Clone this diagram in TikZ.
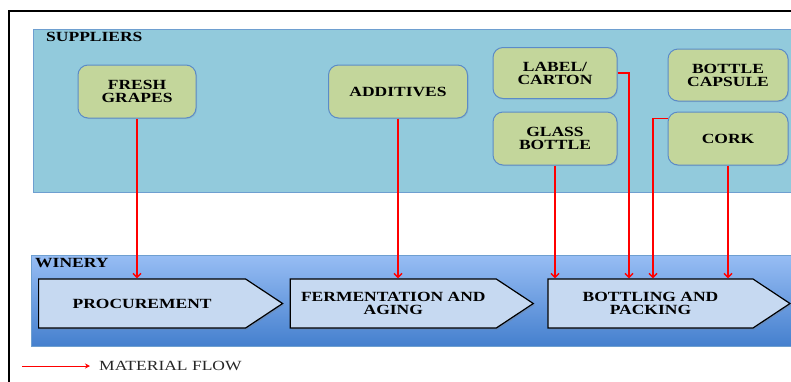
\documentclass[tikz,border=0pt]{standalone}
\usepackage{fontspec}
\setmainfont{Liberation Serif}[FakeStretch=1.25]
\usetikzlibrary{arrows.meta,positioning,shapes.symbols,shadows}
\definecolor{wsky}{HTML}{92CADC}
\definecolor{wedge}{HTML}{6E9FD0}
\definecolor{wolive}{HTML}{C3D69B}
\definecolor{wblue}{HTML}{5B8BC8}
\definecolor{wpale}{HTML}{C6D9F1}
\definecolor{wtop}{HTML}{97BDF4}
\definecolor{wbot}{HTML}{4580CE}
\definecolor{wred}{HTML}{FF0000}

\begin{document}
\begin{tikzpicture}[x=1pt,y=-1pt,
  font=\fontsize{14}{13}\selectfont,
  sup/.style={draw=wblue,fill=wolive,line width=1pt,rounded corners=10pt,align=center,
              font=\fontsize{14}{13}\selectfont\bfseries,minimum height=53pt,inner sep=2pt,
              drop shadow={opacity=0.2,shadow xshift=1pt,shadow yshift=-1pt}},
  stage/.style={signal,signal to=east,signal pointer angle=67,draw=black,line width=1.2pt,
                fill=wpale,align=center,minimum height=49pt,
                font=\fontsize{14}{13}\selectfont\bfseries,
                drop shadow={opacity=0.3,shadow xshift=1.5pt,shadow yshift=-1.5pt}},
  flow/.style={-{Straight Barb[length=4pt,width=8pt]},draw=wred,color=wred,line width=1.4pt},
  legflow/.style={-{Stealth[length=5pt,width=5pt]},draw=wred,line width=0.8pt}]

  \useasboundingbox (0,0) rectangle (791,381);

  % outer frame, cut off at the right
  \draw[line width=2.5pt] (9,383) -- (9,11) -- (795,11);

  % suppliers area
  \draw[draw=wedge,fill=wsky] (33,29) rectangle (795,192);
  \node[anchor=north west,font=\fontsize{14}{13}\selectfont\bfseries,inner sep=2pt] (suplabel) at (44,30) {SUPPLIERS};

  % winery band
  \shade[top color=wtop,bottom color=wbot,draw=wedge] (31,255) rectangle (795,346);
  \node[anchor=north west,font=\fontsize{14}{13}\selectfont\bfseries,inner sep=2pt] (winlabel) at (33,256) {WINERY};

  \node[sup,minimum width=118pt] (grapes) at (137,91.5) {FRESH\\GRAPES};
  \node[sup,minimum width=139pt] (addit) at (398,91.5) {ADDITIVES};
  \node[sup,minimum width=124pt,minimum height=51pt] (carton) at (555,73) {LABEL/\\CARTON};
  \node[sup,minimum width=124pt] (glass) at (555,138.5) {GLASS\\BOTTLE};
  \node[sup,minimum width=120pt,minimum height=52pt] (capsule) at (728,75) {BOTTLE\\CAPSULE};
  \node[sup,minimum width=120pt] (cork) at (728,138.5) {CORK};

  \node[stage,minimum width=244pt,anchor=west] (proc) at (38,303.5) {PROCUREMENT};
  \node[stage,minimum width=243pt,right=6pt of proc] (ferm) {FERMENTATION AND\\AGING};
  \node[stage,minimum width=242pt,right=13pt of ferm] (bott) {BOTTLING AND\\PACKING};

  \draw[flow] (grapes) -- (grapes |- proc.north);
  \draw[flow] (addit) -- (addit |- ferm.north);
  \draw[flow] (glass) -- (glass |- bott.north);
  \draw[flow] (carton.east) -- ++(11.5,0) coordinate (cbend) -- (cbend |- bott.north);
  \draw[flow] ([yshift=-7pt]cork.north west) -- ++(-14.5,0) coordinate (kbend) -- (kbend |- bott.north);
  \draw[flow] (cork) -- (cork |- bott.north);

  % legend
  \coordinate (lstart) at (22,366);
  \node[anchor=west,inner xsep=9pt,text=black!85] (legend) at (90,366) {MATERIAL FLOW};
  \draw[legflow] (lstart) -- (legend.west);
\end{tikzpicture}
\end{document}
